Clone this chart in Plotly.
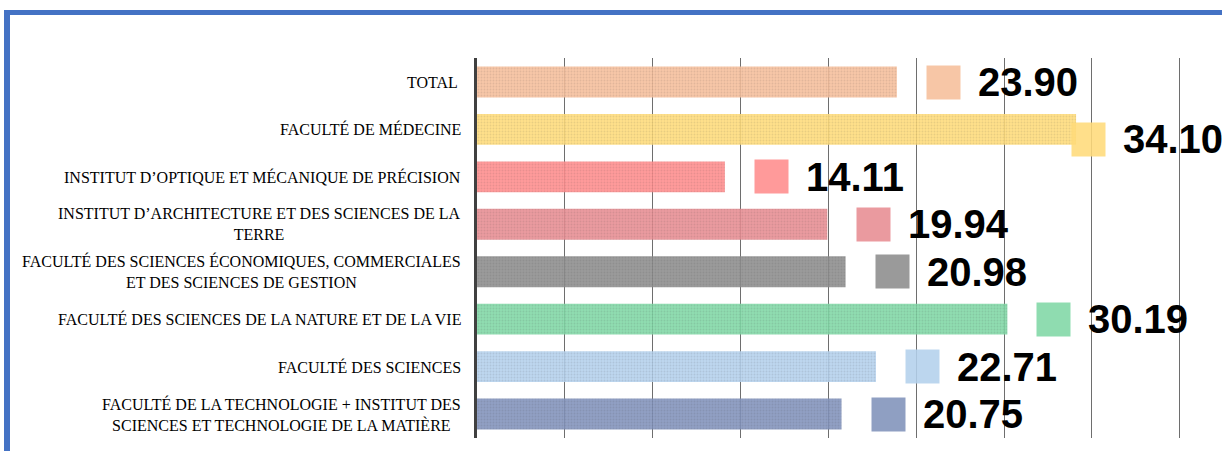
import plotly.graph_objects as go

# ---------------- data ----------------
categories = [
    "TOTAL",
    "FACULTÉ DE MÉDECINE",
    "INSTITUT D’OPTIQUE ET MÉCANIQUE DE PRÉCISION",
    "INSTITUT D’ARCHITECTURE ET DES SCIENCES DE LA TERRE",
    "FACULTÉ DES SCIENCES ÉCONOMIQUES, COMMERCIALES ET DES SCIENCES DE GESTION",
    "FACULTÉ DES SCIENCES DE LA NATURE ET DE LA VIE",
    "FACULTÉ DES SCIENCES",
    "FACULTÉ DE LA TECHNOLOGIE + INSTITUT DES SCIENCES ET TECHNOLOGIE DE LA MATIÈRE",
]
category_labels = [
    "TOTAL ",
    "FACULTÉ DE MÉDECINE",
    "INSTITUT D’OPTIQUE ET MÉCANIQUE DE PRÉCISION",
    "INSTITUT D’ARCHITECTURE ET DES SCIENCES DE LA<br>TERRE",
    "FACULTÉ DES SCIENCES ÉCONOMIQUES, COMMERCIALES<br>ET DES SCIENCES DE GESTION",
    "FACULTÉ DES SCIENCES DE LA NATURE ET DE LA VIE",
    "FACULTÉ DES SCIENCES",
    "FACULTÉ DE LA TECHNOLOGIE + INSTITUT DES<br>SCIENCES ET TECHNOLOGIE DE LA MATIÈRE",
]
values = [23.90, 34.10, 14.11, 19.94, 20.98, 30.19, 22.71, 20.75]
x_ticks = [0, 5, 10, 15, 20, 25, 30, 35, 40]

# ---------------- style ----------------
apparent_colors = ["#F7C6A6", "#FFDF8A", "#FF9A9A", "#EA9A9F",
                   "#9A9A9A", "#8EDCB0", "#BCD6EE", "#8F9FC2"]
ALPHA = 0.88


def base_rgba(hexcol, a=ALPHA):
    h = hexcol.lstrip("#")
    rgb = [int(h[i:i + 2], 16) for i in (0, 2, 4)]
    base = [max(0, min(255, round((c - (1 - a) * 255) / a))) for c in rgb]
    return f"rgba({base[0]},{base[1]},{base[2]},{a})"


bar_colors = [base_rgba(c) for c in apparent_colors]

W, H = 1222, 451
ML, MR, MT, MB = 477, 37, 58, 13
PW, PH = W - ML - MR, H - MT - MB
X_MAX = 40.3

# label nudges (pixels) for the one label that was moved by hand
label_nudge = {"FACULTÉ DE MÉDECINE": (-34, -10)}

fig = go.Figure()
fig.add_trace(go.Bar(
    y=categories, x=values, orientation="h",
    marker=dict(color=bar_colors, line=dict(width=0),
                pattern=dict(shape=".", fgcolor="white", fgopacity=0.12,
                             size=3, solidity=0.3)),
    hoverinfo="x+y", showlegend=False,
))

annotations = []
for cat, lab, v, col in zip(categories, category_labels, values, bar_colors):
    dx, dy = label_nudge.get(cat, (0, 0))
    annotations.append(dict(
        x=0, xref="paper", y=cat, yref="y", text=lab, showarrow=False,
        xanchor="right", yanchor="middle", align="center", xshift=-14,
        font=dict(family="Liberation Serif", size=16, color="black"),
    ))
    annotations.append(dict(
        x=v, xref="x", y=cat, yref="y", text=" ", showarrow=False,
        xanchor="left", yanchor="middle", xshift=29 + dx, yshift=dy,
        width=33, height=33, bgcolor=col, borderpad=0,
        font=dict(size=8),
    ))
    annotations.append(dict(
        x=v, xref="x", y=cat, yref="y", text=f"<b>{v:.2f}</b>", showarrow=False,
        xanchor="left", yanchor="middle", xshift=79 + dx, yshift=dy,
        font=dict(family="Liberation Sans", size=40, color="black"),
    ))


def px_x(p):
    return (p - ML) / PW


def px_y(p):
    return (H - MB - p) / PH


shapes = [
    dict(type="line", xref="paper", yref="paper",
         x0=px_x(4), x1=px_x(W + 5), y0=px_y(12.5), y1=px_y(12.5),
         line=dict(color="#4472C4", width=5)),
    dict(type="line", xref="paper", yref="paper",
         x0=px_x(7), x1=px_x(7), y0=px_y(10), y1=px_y(H + 5),
         line=dict(color="#4472C4", width=6)),
]

fig.update_layout(
    width=W, height=H,
    margin=dict(l=ML, r=MR, t=MT, b=MB, pad=0),
    paper_bgcolor="white", plot_bgcolor="white",
    bargap=0.35,
    xaxis=dict(range=[0, X_MAX], tickvals=x_ticks, showticklabels=False,
               showgrid=True, gridcolor="#6E6E6E", gridwidth=1,
               zeroline=False, showline=False, ticks=""),
    yaxis=dict(categoryorder="array", categoryarray=categories,
               autorange="reversed", showticklabels=False, ticks="",
               showgrid=False, showline=True, linecolor="#404040",
               linewidth=3, zeroline=False),
    annotations=annotations,
    shapes=shapes,
)

fig.write_html(
    "out.html",
    config={"displayModeBar": False},
    post_script="document.body.style.margin='0';document.body.style.overflow='hidden';",
)
